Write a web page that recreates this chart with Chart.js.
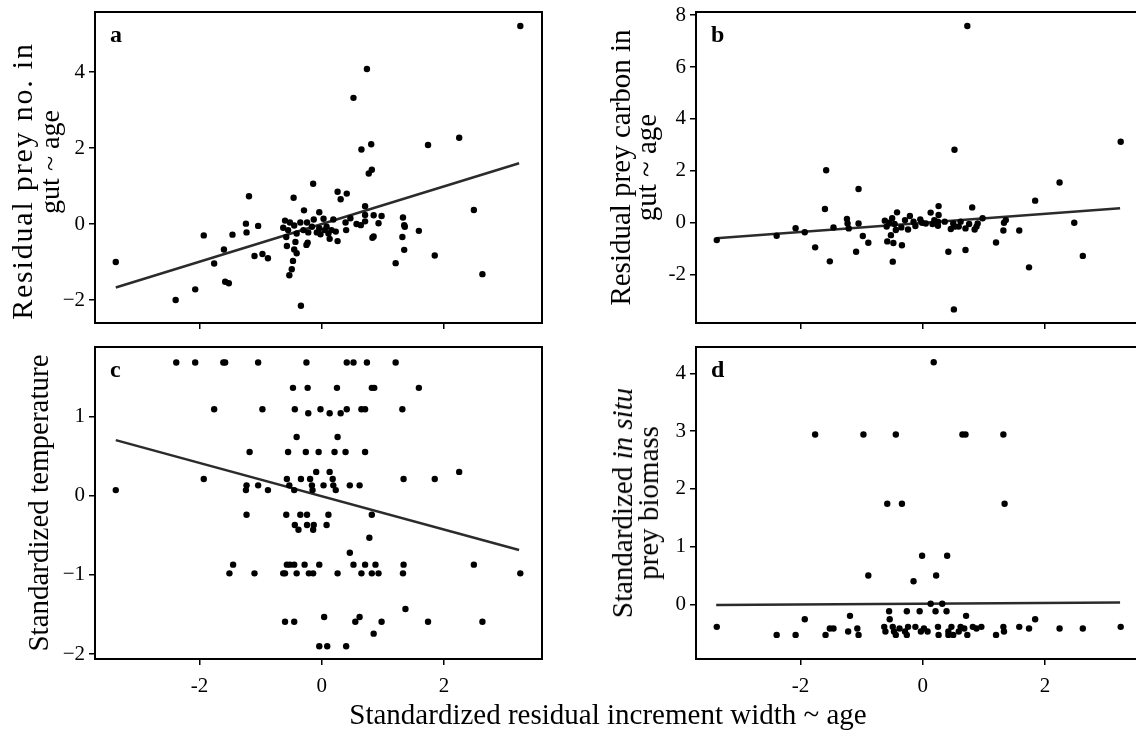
<!DOCTYPE html>
<html>
<head>
<meta charset="utf-8">
<script src="https://cdn.jsdelivr.net/npm/chart.js@4.4.1/dist/chart.umd.min.js"></script>
<style>
html, body { margin: 0; padding: 0; background: #fff; overflow: hidden; width: 1136px; height: 732px; }
.panel { position: absolute; }
.txt { position: absolute; font-family: "Liberation Serif", "Times New Roman", serif; color: #000; white-space: nowrap; font-size: 29px; }
.rot { transform: translate(-50%, -50%) rotate(-90deg); }
</style>
</head>
<body>
<div class="panel" style="left:0;top:0"><canvas id="pa" width="560" height="340" style="width:560px;height:340px"></canvas></div>
<div class="panel" style="left:580px;top:0"><canvas id="pb" width="580" height="340" style="width:580px;height:340px"></canvas></div>
<div class="panel" style="left:0;top:335px"><canvas id="pc" width="560" height="365" style="width:560px;height:365px"></canvas></div>
<div class="panel" style="left:580px;top:335px"><canvas id="pd" width="580" height="365" style="width:580px;height:365px"></canvas></div>
<div class="txt rot" style="left:22px;top:181px;font-size:30px;line-height:30px;letter-spacing:1.8px">Residual prey no. in</div>
<div class="txt rot" style="left:50px;top:162px;font-size:28px;line-height:28px">gut ~ age</div>
<div class="txt rot" style="left:635px;top:503px;line-height:26px;text-align:center">Standardized <i>in situ</i><br>prey biomass</div>
<div class="txt" style="left:608px;top:700px;line-height:29px;transform:translateX(-50%)">Standardized residual increment width ~ age</div>
<script>
// panel a: residual prey number
const aX = [3.25,0.74,0.52,0.81,0.65,1.74,2.25,0.82,0.77,-0.14,
  -1.19,-0.46,0.26,0.41,0.31,2.49,0.71,-0.29,-0.04,-1.93,
  -1.46,-1.24,-1.23,-1.04,-3.37,-1.60,-1.76,-1.10,-0.97,-0.88,
  -1.58,-1.52,-2.07,-2.39,-0.34,-0.53,-0.49,-0.47,-0.41,-0.45,
  -0.57,-0.43,-0.25,-0.23,-0.58,-0.63,-0.60,-0.52,-0.45,-0.35,
  -0.24,-0.13,0.03,0.19,-0.22,-0.08,-0.02,0.05,0.11,0.13,
  0.23,0.26,0.40,0.39,0.47,0.57,0.64,0.71,0.71,0.85,
  0.98,0.93,0.83,0.85,1.33,1.35,1.36,1.59,1.32,1.35,
  1.21,1.85,2.63,0.08,0.16,-0.30,-0.16,-0.55,-0.41,-0.04];
const aY = [5.21,4.08,3.32,2.10,1.96,2.08,2.27,1.43,1.33,1.06,
  0.73,0.69,0.85,0.80,0.65,0.37,0.47,0.36,0.31,-0.30,
  -0.28,0.01,-0.22,-0.05,-1.00,-0.67,-1.04,-0.84,-0.79,-0.90,
  -1.52,-1.56,-1.72,-2.00,-2.15,-1.35,-1.19,-0.97,-0.77,-0.67,
  -0.58,-0.47,-0.55,-0.49,-0.34,-0.10,0.09,0.04,-0.04,0.04,
  0.04,0.12,0.14,0.12,-0.22,-0.22,-0.27,-0.16,-0.25,-0.39,
  -0.20,-0.45,-0.16,0.04,0.15,0.00,-0.03,0.07,0.24,0.23,
  0.21,0.02,-0.36,-0.33,0.17,-0.03,-0.07,-0.18,-0.34,-0.68,
  -1.03,-0.83,-1.32,-0.07,-0.16,-0.16,-0.07,-0.16,-0.25,-0.11];
const aFit = [[-3.37, -1.67], [3.23, 1.60]];

// panel b: residual prey carbon
const bX = [0.73,0.52,3.24,-1.58,-1.05,2.24,1.84,-1.60,0.81,0.26,
  0.13,-0.42,-0.21,0.26,-3.37,-2.39,-2.08,-1.93,-1.76,-1.52,
  -1.46,-1.24,-1.23,-1.21,-1.05,-0.98,-1.09,-0.89,-0.62,-0.59,
  -0.58,-0.52,-0.48,-0.49,-0.34,-0.50,-0.46,-0.44,-0.24,-0.12,
  -0.04,0.05,0.19,0.25,0.42,0.46,0.70,0.50,0.59,0.70,
  0.85,0.90,0.98,1.20,1.32,1.33,1.36,1.58,1.74,2.48,
  2.62,0.51,0.36,0.62,0.25,-0.01,-0.29,-0.35,0.76,0.88,
  -0.15,0.53,0.16,-0.55];
const bY = [7.58,2.81,3.12,2.02,1.30,1.55,0.85,0.53,0.59,0.64,
  0.39,0.40,0.26,0.30,-0.67,-0.50,-0.21,-0.37,-0.95,-1.49,
  -0.18,0.14,-0.03,-0.22,-0.03,-0.51,-1.12,-0.77,0.08,-0.15,
  -0.72,-0.48,-0.78,-1.50,-0.87,0.17,-0.05,-0.28,-0.26,-0.13,
  0.13,-0.03,0.10,-0.12,-1.12,-0.24,-1.05,-0.03,-0.15,-0.22,
  -0.26,-0.03,0.17,-0.76,-0.30,0.00,0.10,-0.30,-1.72,0.00,
  -1.28,-3.34,0.04,0.04,0.04,0.00,0.10,-0.18,-0.05,-0.15,
  0.04,-0.15,-0.05,0.00];
const bFit = [[-3.38, -0.60], [3.23, 0.56]];

// panel c: standardized temperature
const cX = [-2.38,-2.07,-1.61,-1.58,-1.04,-0.25,0.41,0.52,0.74,1.21,
  -0.47,-0.23,0.25,0.82,0.86,1.59,
  -1.76,-0.97,-0.44,-0.02,0.41,0.65,0.71,1.32,
  -0.22,0.13,0.31,
  -0.41,0.26,
  -1.18,-0.55,-0.26,-0.05,0.21,0.39,0.71,
  -0.09,0.13,2.25,
  -1.93,-0.57,-0.34,-0.19,0.18,1.34,1.85,
  -1.23,-1.04,-0.53,-0.16,0.03,0.19,0.46,0.62,
  -3.37,-1.24,-0.88,-0.45,-0.15,0.23,
  -1.23,-0.58,-0.35,-0.24,0.11,0.82,
  -0.44,-0.24,-0.13,0.08,
  -0.38,-0.14,
  0.78,
  0.46,
  -1.45,-0.57,-0.52,-0.45,-0.28,-0.04,0.52,0.71,0.88,1.34,2.49,
  -1.51,-1.10,-0.63,-0.60,-0.41,-0.21,-0.14,0.26,0.65,0.82,0.93,1.33,3.25,
  1.37,
  0.04,0.62,
  -0.60,-0.45,0.55,0.98,1.74,2.63,
  0.85,
  -0.04,0.09,0.40];
const cY = [1.68,1.68,1.68,1.68,1.68,1.68,1.68,1.68,1.68,1.68,
  1.36,1.36,1.36,1.36,1.36,1.36,
  1.09,1.09,1.09,1.09,1.09,1.09,1.09,1.09,
  1.04,1.04,1.04,
  0.74,0.74,
  0.55,0.55,0.55,0.55,0.55,0.55,0.55,
  0.30,0.30,0.30,
  0.21,0.21,0.21,0.21,0.21,0.21,0.21,
  0.13,0.13,0.13,0.13,0.13,0.13,0.13,0.13,
  0.07,0.07,0.07,0.07,0.07,0.07,
  -0.24,-0.24,-0.24,-0.24,-0.24,-0.24,
  -0.37,-0.37,-0.37,-0.37,
  -0.43,-0.43,
  -0.53,
  -0.72,
  -0.87,-0.87,-0.87,-0.87,-0.87,-0.87,-0.87,-0.87,-0.87,-0.87,-0.87,
  -0.98,-0.98,-0.98,-0.98,-0.98,-0.98,-0.98,-0.98,-0.98,-0.98,-0.98,-0.98,-0.98,
  -1.43,
  -1.53,-1.53,
  -1.59,-1.59,-1.59,-1.59,-1.59,-1.59,
  -1.74,
  -1.90,-1.90,-1.90];
const cFit = [[-3.37, 0.70], [3.23, -0.685]];

// panel d: standardized in situ prey biomass
const dX = [0.18,
  -1.76,-0.97,-0.44,0.65,0.70,1.32,
  -0.58,-0.34,1.34,
  -0.01,0.40,-0.89,0.22,-0.15,0.13,0.32,
  -0.55,-0.26,-0.05,0.21,0.39,
  -1.19,0.71,
  -1.93,1.84,-0.54,
  -3.37,-0.63,-0.49,-0.24,-0.12,0.25,0.47,0.62,0.82,0.96,1.32,1.58,3.24,
  -1.52,-1.46,-1.07,1.74,2.24,2.62,-0.38,0.02,0.68,0.88,
  -1.22,-0.61,-0.47,-0.29,-0.03,0.08,0.42,0.59,1.33,
  -2.39,-2.08,-1.59,-1.05,-0.44,-0.26,0.26,0.42,0.50,0.73,1.20];
const dY = [4.19,
  2.94,2.94,2.94,2.94,2.94,2.94,
  1.74,1.74,1.74,
  0.84,0.84,0.50,0.50,0.40,0.01,0.01,
  -0.12,-0.12,-0.12,-0.12,-0.12,
  -0.20,-0.20,
  -0.26,-0.26,-0.26,
  -0.39,-0.39,-0.39,-0.39,-0.39,-0.39,-0.39,-0.39,-0.39,-0.39,-0.39,-0.39,-0.39,
  -0.42,-0.42,-0.42,-0.42,-0.42,-0.42,-0.42,-0.42,-0.42,-0.42,
  -0.47,-0.47,-0.47,-0.47,-0.47,-0.47,-0.47,-0.47,-0.47,
  -0.53,-0.53,-0.53,-0.53,-0.53,-0.53,-0.53,-0.53,-0.53,-0.53,-0.53];
const dFit = [[-3.38, -0.01], [3.23, 0.03]];

const xTicks = [-2, 0, 2];

Chart.defaults.font.family = '"Liberation Serif", "Times New Roman", serif';
Chart.defaults.color = '#000';

const minusSign = v => v < 0 ? '\u2212' + (-v) : String(v);
const hyphen = v => String(v);

function frame(tag) {
  return {
    id: 'frame',
    afterDatasetsDraw(chart) {
      const { ctx, chartArea: a } = chart;
      ctx.save();
      ctx.strokeStyle = '#000';
      ctx.lineWidth = 2;
      ctx.strokeRect(a.left, a.top, a.right - a.left, a.bottom - a.top);
      ctx.font = 'bold 24px "Liberation Serif", serif';
      ctx.fillStyle = '#000';
      ctx.textBaseline = 'alphabetic';
      ctx.fillText(tag, a.left + 15, a.top + 30);
      ctx.restore();
    }
  };
}

function panel(id, o) {
  return new Chart(document.getElementById(id), {
    type: 'scatter',
    data: {
      datasets: [
        {
          data: o.x.map((v, i) => ({ x: v, y: o.y[i] })),
          pointRadius: 3.2, pointHoverRadius: 3.2,
          backgroundColor: '#000', borderWidth: 0
        },
        {
          data: o.fit.map(p => ({ x: p[0], y: p[1] })),
          showLine: true, pointRadius: 0,
          borderColor: '#2b2b2b', borderWidth: 2.5
        }
      ]
    },
    options: {
      responsive: false,
      animation: false,
      events: [],
      layout: { padding: { left: 0, right: o.padRight, top: 12, bottom: 0 } },
      plugins: { legend: { display: false }, tooltip: { enabled: false } },
      scales: {
        x: {
          type: 'linear', min: -3.71, max: 3.605,
          afterBuildTicks: s => { s.ticks = xTicks.map(v => ({ value: v })); },
          afterFit: s => { s.height = o.xH; s.paddingLeft = 0; s.paddingRight = 0; },
          border: { display: false },
          grid: { drawOnChartArea: false, color: '#000', lineWidth: 1.5, tickLength: 6 },
          ticks: { display: o.xLabels, color: '#000', padding: 9, font: { size: 21 }, callback: hyphen }
        },
        y: {
          type: 'linear', min: o.yMin, max: o.yMax,
          afterBuildTicks: s => { s.ticks = o.yTicks.map(v => ({ value: v })); },
          afterFit: s => { s.width = o.yW; s.paddingTop = 0; s.paddingBottom = 0; },
          border: { display: false },
          grid: { drawOnChartArea: false, color: '#000', lineWidth: 1.5, tickLength: 6 },
          ticks: { color: '#000', padding: 4, font: { size: 21 }, callback: o.fmt },
          title: o.title ? {
            display: true, text: o.title, color: '#000',
            font: { size: o.tSize, lineHeight: o.tLine },
            padding: { top: o.tPad, bottom: 0 }
          } : { display: false }
        }
      }
    },
    plugins: [frame(o.tag)]
  });
}

panel('pa', {
  x: aX, y: aY, fit: aFit, tag: 'a',
  yMin: -2.605, yMax: 5.58, yTicks: [-2, 0, 2, 4], fmt: minusSign,
  yW: 95, padRight: 18, xH: 17, xLabels: false,
  title: null
});
panel('pb', {
  x: bX, y: bY, fit: bFit, tag: 'b',
  yMin: -3.865, yMax: 8.12, yTicks: [-2, 0, 2, 4, 6, 8], fmt: hyphen,
  yW: 116, padRight: 17, xH: 17, xLabels: false,
  title: ['Residual prey carbon in', 'gut ~ age'], tSize: 29, tLine: '26px', tPad: 29
});
panel('pc', {
  x: cX, y: cY, fit: cFit, tag: 'c',
  yMin: -2.06, yMax: 1.875, yTicks: [-2, -1, 0, 1], fmt: minusSign,
  yW: 95, padRight: 18, xH: 41, xLabels: true,
  title: 'Standardized temperature', tSize: 29, tLine: '35px', tPad: 23
});
panel('pd', {
  x: dX, y: dY, fit: dFit, tag: 'd',
  yMin: -0.947, yMax: 4.455, yTicks: [0, 1, 2, 3, 4], fmt: hyphen,
  yW: 116, padRight: 17, xH: 41, xLabels: true,
  title: null
});
</script>
</body>
</html>
